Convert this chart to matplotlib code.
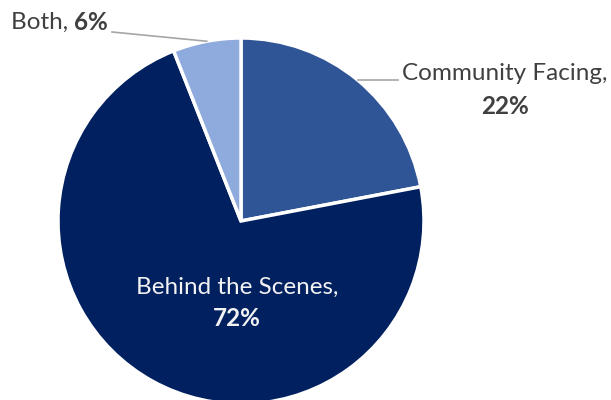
import numpy as np
import matplotlib
matplotlib.use("Agg")
import matplotlib.pyplot as plt

categories = ["Community Facing", "Behind the Scenes", "Both"]
shares = [22, 72, 6]
colors = ["#2F5597", "#002060", "#8FAADC"]

W, H = 611, 400
fig = plt.figure(figsize=(W / 100, H / 100), dpi=100)
ax = fig.add_axes([0, 0, 1, 1])

cx, cy, r = 241, H - 221, 183
wedges, _ = ax.pie(shares, colors=colors, startangle=90, counterclock=False,
                   center=(cx, cy), radius=r,
                   wedgeprops=dict(edgecolor="white", linewidth=2.5))
ax.set_xlim(0, W)
ax.set_ylim(0, H)
ax.set_aspect("equal")
ax.axis("off")

font = "Lato"
fs = 17.5
grey = "#404040"


def edge_point(w):
    ang = np.deg2rad((w.theta1 + w.theta2) / 2)
    return cx + r * np.cos(ang), cy + r * np.sin(ang)


# Community Facing label with leader
px, py = edge_point(wedges[0])
ax.plot([px, 398], [py, py], color="#A6A6A6", lw=1.2)
ax.text(505, H - 73, f"{categories[0]},", ha="center", va="center",
        fontsize=fs, family=font, color=grey)
ax.text(505, H - 107, f"{shares[0]}%", ha="center", va="center",
        fontsize=fs, family=font, color=grey, weight="bold")

# Behind the Scenes label inside the slice
ax.text(237, H - 287, f"{categories[1]},", ha="center", va="center",
        fontsize=fs, family=font, color="#F2F2F2")
ax.text(237, H - 318, f"{shares[1]}%", ha="center", va="center",
        fontsize=fs, family=font, color="#F2F2F2", weight="bold")

# Both label with leader
px, py = edge_point(wedges[2])
ax.plot([px, 112], [py, H - 32], color="#A6A6A6", lw=1.2)
t1 = ax.text(11, H - 22, f"{categories[2]}, ", ha="left", va="center",
             fontsize=fs, family=font, color=grey)
fig.canvas.draw()
bb = t1.get_window_extent()
x_end = ax.transData.inverted().transform((bb.x1, bb.y0))[0]
ax.text(x_end, H - 22, f"{shares[2]}%", ha="left", va="center",
        fontsize=fs, family=font, color=grey, weight="bold")

fig.savefig("out.png", dpi=100)
